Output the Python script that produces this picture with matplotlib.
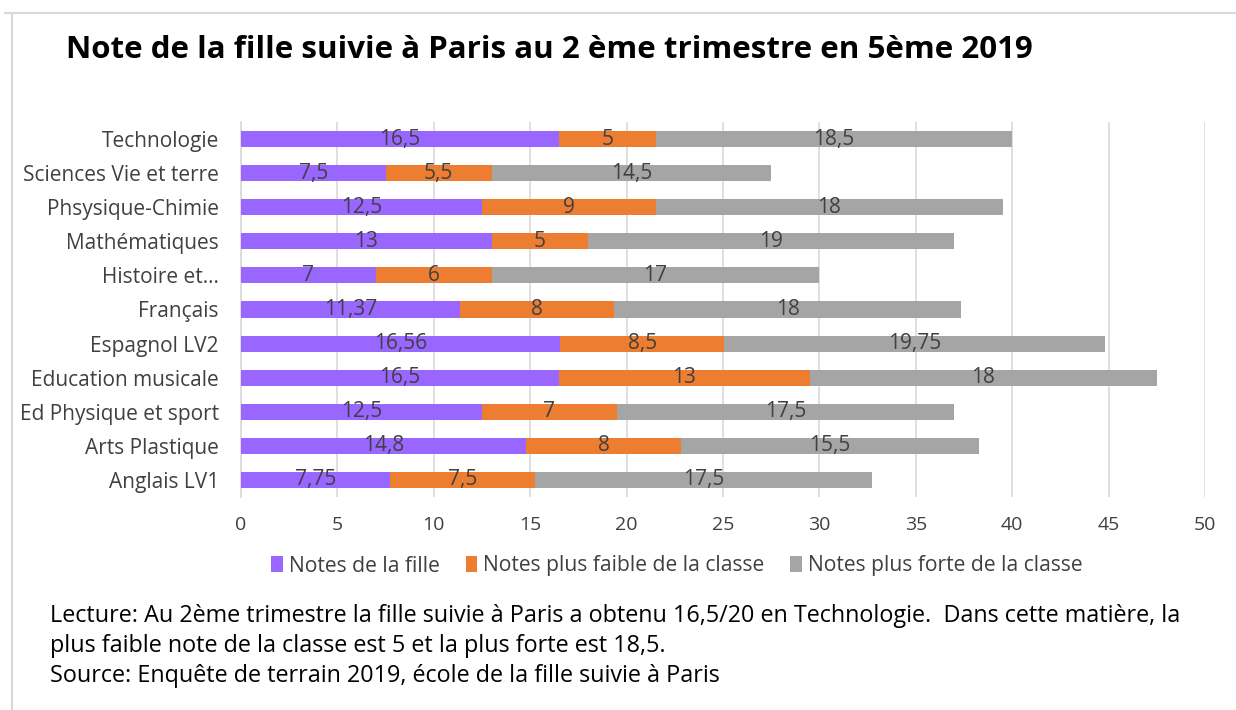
import matplotlib
matplotlib.use('Agg')
from matplotlib import pyplot as plt
from matplotlib.lines import Line2D
import numpy as np

plt.rcParams['font.family'] = ['Open Sans', 'DejaVu Sans']

# Data (bottom to top, as drawn)
matieres = ['Anglais LV1', 'Arts Plastique', 'Ed Physique et sport', 'Education musicale',
            'Espagnol LV2', 'Français', 'Histoire et…', 'Mathématiques',
            'Phsysique-Chimie', 'Sciences Vie et terre', 'Technologie']
notes_fille = [7.75, 14.8, 12.5, 16.5, 16.56, 11.37, 7, 13, 12.5, 7.5, 16.5]
notes_faible = [7.5, 8, 7, 13, 8.5, 8, 6, 5, 9, 5.5, 5]
notes_forte = [17.5, 15.5, 17.5, 18, 19.75, 18, 17, 19, 18, 14.5, 18.5]

series = [
    ('Notes de la fille', notes_fille, '#9966FF'),
    ('Notes plus faible de la classe', notes_faible, '#ED7D31'),
    ('Notes plus forte de la classe', notes_forte, '#A5A5A5'),
]

def fmt(v):
    return ('%g' % v).replace('.', ',')

fig = plt.figure(figsize=(12.36, 7.10), dpi=100)
ax = fig.add_axes([241 / 1236, 1 - 497 / 710, 964 / 1236, 375 / 710])

y = np.arange(len(matieres))
left = np.zeros(len(matieres))
for name, vals, col in series:
    vals = np.array(vals, dtype=float)
    ax.barh(y, vals, left=left, height=0.47, color=col, label=name, zorder=3)
    for yi, l, v in zip(y, left, vals):
        ax.text(l + v / 2, yi, fmt(v), ha='center', va='center',
                fontsize=15, color='#404040', zorder=4)
    left = left + vals

ax.set_xlim(0, 50)
ax.set_ylim(-0.5, len(matieres) - 0.5)
ax.set_xticks(np.arange(0, 51, 5))
ax.set_yticks(y)
ax.set_yticklabels(matieres)
ax.tick_params(axis='both', length=0, labelcolor='#404040')
ax.tick_params(axis='y', pad=16, labelsize=15)
ax.tick_params(axis='x', pad=14, labelsize=14)
ax.grid(axis='x', color='#D9D9D9', linewidth=1.2, zorder=0)
for s in ['top', 'right', 'bottom']:
    ax.spines[s].set_visible(False)
ax.spines['left'].set_color('#D9D9D9')
ax.spines['left'].set_linewidth(1.2)

handles, labels = ax.get_legend_handles_labels()
fig.legend(handles, labels, loc='center', bbox_to_anchor=(677 / 1236, 1 - 566 / 710),
           ncol=3, frameon=False, fontsize=15.2, labelcolor='#404040',
           handlelength=0.55, handleheight=0.75, handletextpad=0.3, columnspacing=1.2)

fig.text(66 / 1236, 1 - 50 / 710, 'Note de la fille suivie à Paris au 2 ème trimestre en 5ème 2019',
         fontsize=22.5, fontweight='bold', color='black', ha='left', va='center')

notes_txt = ['Lecture: Au 2ème trimestre la fille suivie à Paris a obtenu 16,5/20 en Technologie.  Dans cette matière, la',
             'plus faible note de la classe est 5 et la plus forte est 18,5.',
             'Source: Enquête de terrain 2019, école de la fille suivie à Paris']
for i, line in enumerate(notes_txt):
    fig.text(50 / 1236, 1 - (616 + 30 * i) / 710, line, fontsize=16.8, color='black',
             ha='left', va='center')

# frame around the chart
fig.add_artist(Line2D([5 / 1236, 1], [1 - 13 / 710] * 2, color='#D9D9D9', linewidth=1.5))
fig.add_artist(Line2D([12 / 1236] * 2, [0, 1 - 13 / 710], color='#D9D9D9', linewidth=1.5))

fig.savefig('out.png', dpi=100)
